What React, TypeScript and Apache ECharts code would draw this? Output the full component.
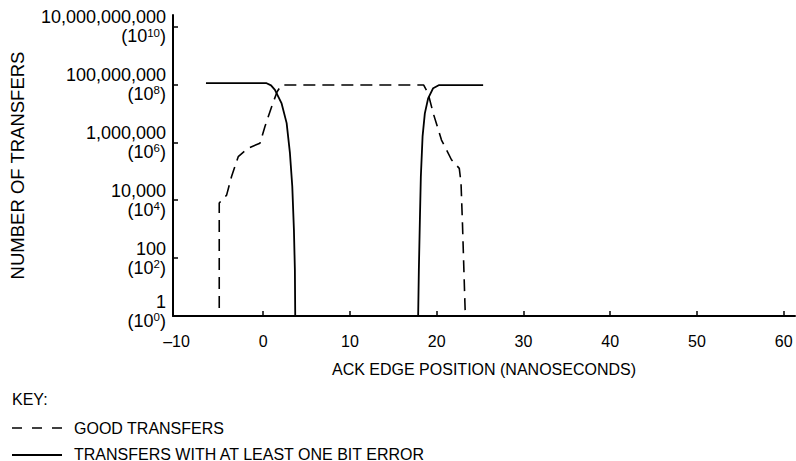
import React, { useEffect, useRef } from "react";
import * as echarts from "echarts";

// ---- data ----
const xTickValues = [-10, 0, 10, 20, 30, 40, 50, 60];
const xMinorTickValues = [0, 10, 20, 30, 40, 50, 60];
const yTickValues = [1, 100, 1e4, 1e6, 1e8, 1e10];
const yTickText = ["1", "100", "10,000", "1,000,000", "100,000,000", "10,000,000,000"];
const yTickExp = ["0", "2", "4", "6", "8", "10"];

// GOOD TRANSFERS (dashed)
const goodX = [-6.34, -5.07, -5.07, -4.22, -3.65, -2.88, -1.73, -0.38, 0.2, 0.97, 1.6, 2.1, 18.5, 19.0, 19.6, 20.55, 21.7, 22.6, 22.8, 22.97, 23.25, 23.3, 24.4];
const goodCount = [1, 1, 8e3, 1.5e4, 6.6e4, 3.2e5, 6.3e5, 9.3e5, 3.5e6, 1.7e7, 5.6e7, 9.5e7, 9.5e7, 5e7, 1e7, 1.2e6, 2.5e5, 1.26e5, 4e4, 1.5e3, 2.8, 1, 1];

// TRANSFERS WITH AT LEAST ONE BIT ERROR (solid)
const errorX = [-6.6, 0.39, 0.9, 1.35, 2.12, 2.7, 3.08, 3.35, 3.54, 3.65, 3.69, 17.86, 17.94, 18.06, 18.17, 18.37, 18.63, 19.01, 19.59, 20.28, 25.35];
const errorCount = [1.1e8, 1.1e8, 9.3e7, 6.5e7, 2.2e7, 4.6e6, 4.2e5, 3e4, 930, 39, 1, 1, 39, 2.1e3, 6.6e4, 1.6e6, 1e7, 3.3e7, 7.4e7, 9.5e7, 9.5e7];

const seriesNames = ["GOOD TRANSFERS", "TRANSFERS WITH AT LEAST ONE BIT ERROR"];

const FONT = "'Liberation Sans', Arial, Helvetica, sans-serif";

export default function App() {
  const ref = useRef<HTMLDivElement>(null);
  useEffect(() => {
    if (!ref.current) return;
    const chart = echarts.init(ref.current, null, { renderer: "svg" });
    const goodData = goodX.map((x, i) => [x, goodCount[i]]);
    const errorData = errorX.map((x, i) => [x, errorCount[i]]);
    const option: any = {
      animation: false,
      backgroundColor: "#fff",
      textStyle: { fontFamily: FONT, color: "#000" },
      grid: { left: 173, right: 1, top: 15, bottom: 145 },
      xAxis: {
        type: "value",
        min: -10.4,
        max: 61.3,
        name: "ACK EDGE POSITION (NANOSECONDS)",
        nameLocation: "middle",
        nameGap: 45,
        nameTextStyle: { fontSize: 16, color: "#000", fontFamily: FONT },
        splitLine: { show: false },
        axisLine: { lineStyle: { color: "#000", width: 2 } },
        axisTick: { inside: true, length: 5, customValues: xMinorTickValues, lineStyle: { color: "#000", width: 1.5 } },
        axisLabel: {
          customValues: xTickValues,
          margin: 17,
          fontSize: 16,
          color: "#000",
          fontFamily: FONT,
          formatter: (v: number) => (v < 0 ? "\u2013" + Math.abs(v) : String(v)),
        },
      },
      yAxis: {
        type: "log",
        logBase: 10,
        min: 1,
        max: 2.5e10,
        name: "NUMBER OF TRANSFERS",
        nameLocation: "middle",
        nameGap: 146,
        nameRotate: 90,
        nameTextStyle: { fontSize: 18.5, color: "#000", fontFamily: FONT },
        splitLine: { show: false },
        axisLine: { onZero: false, lineStyle: { color: "#000", width: 2 } },
        axisTick: { inside: true, length: 5, customValues: yTickValues, lineStyle: { color: "#000", width: 1.5 } },
        axisLabel: {
          customValues: yTickValues,
          margin: 7,
          align: "right",
          formatter: (v: number) => {
            const idx = Math.round(Math.log10(v) / 2);
            const main = yTickText[idx] ?? "";
            const exp = yTickExp[idx] ?? "";
            let s = `{a|${main}}\n{a|(10}{s|${exp}}{a|)}`;
            if (idx === 0) s += "\n{e| }";
            return s;
          },
          rich: {
            a: { fontSize: 18, lineHeight: 19, color: "#000", fontFamily: FONT },
            s: { fontSize: 11.5, lineHeight: 12, verticalAlign: "top", color: "#000", fontFamily: FONT },
            e: { fontSize: 1, lineHeight: 10 },
          },
        },
      },
      series: [
        {
          name: seriesNames[0],
          type: "line",
          data: goodData,
          showSymbol: false,
          symbol: "none",
          lineStyle: { color: "#000", width: 1.6, type: [12, 7] },
          z: 3,
        },
        {
          name: seriesNames[1],
          type: "line",
          data: errorData,
          showSymbol: false,
          symbol: "none",
          lineStyle: { color: "#000", width: 1.8, type: "solid" },
          z: 4,
        },
      ],
      graphic: [
        { type: "text", x: 12, y: 399, style: { text: "KEY:", font: `16px ${FONT}`, fill: "#000", verticalAlign: "middle" } },
        { type: "line", shape: { x1: 12, y1: 428, x2: 62, y2: 428 }, style: { stroke: "#000", lineWidth: 1.6, lineDash: [10, 10] } },
        { type: "text", x: 74, y: 428, style: { text: seriesNames[0], font: `16px ${FONT}`, fill: "#000", verticalAlign: "middle" } },
        { type: "line", shape: { x1: 12, y1: 455, x2: 62, y2: 455 }, style: { stroke: "#000", lineWidth: 1.8 } },
        { type: "text", x: 74, y: 454, style: { text: seriesNames[1], font: `16px ${FONT}`, fill: "#000", verticalAlign: "middle" } },
      ],
    };
    chart.setOption(option);
    return () => chart.dispose();
  }, []);
  return (
    <div
      ref={ref}
      style={{ position: "fixed", left: 0, top: 0, width: 796, height: 461, background: "#fff" }}
    />
  );
}
